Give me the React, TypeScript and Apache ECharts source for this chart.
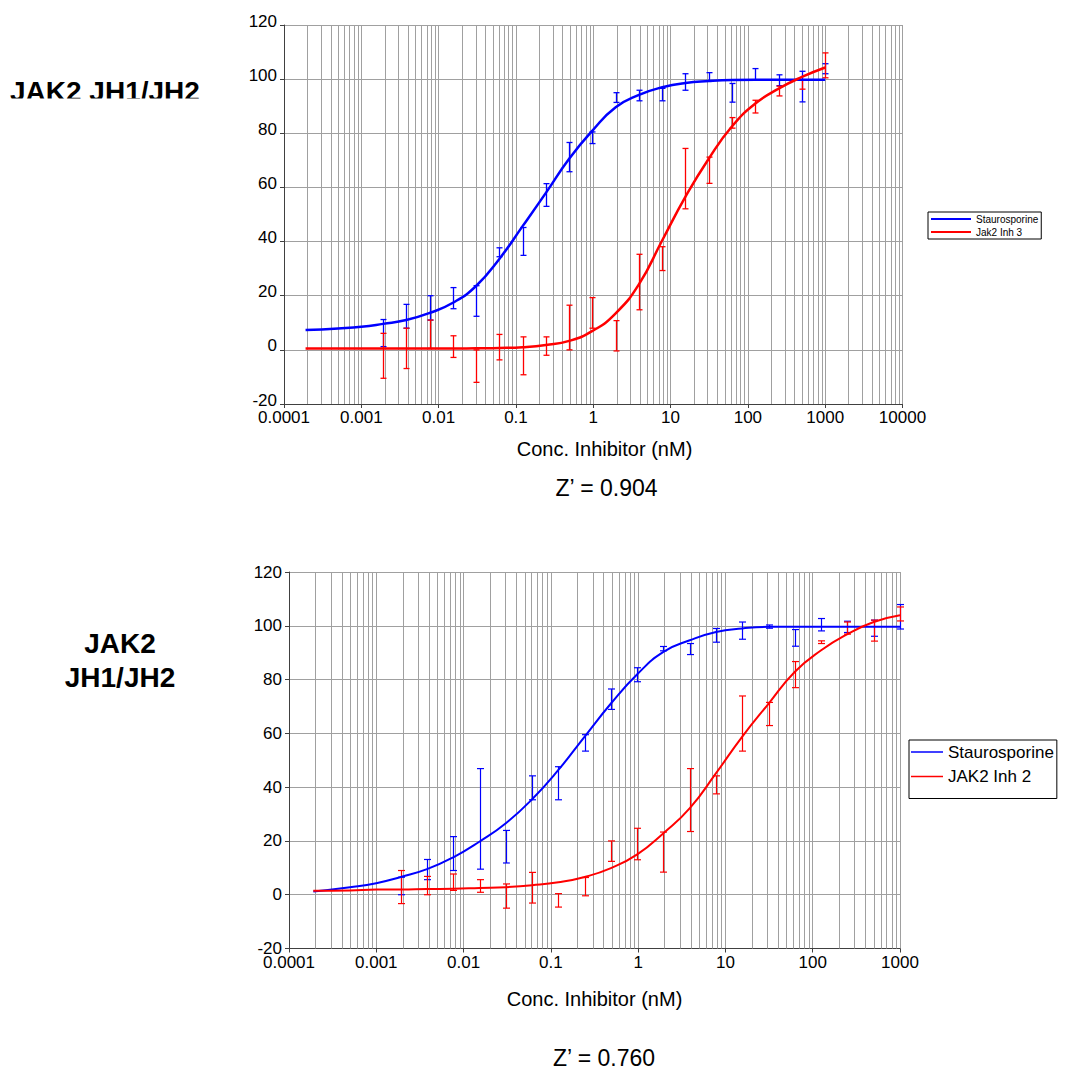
import React, { useEffect, useRef } from "react";
import * as echarts from "echarts";

const FONT = '"Liberation Sans", Arial, Helvetica, sans-serif';
const BLUE = "#0000ff";
const RED = "#ff0000";
const GRID_GRAY = "#a0a0a0";
const AXIS_GRAY = "#404040";

// x tick labels (decades)
const xTickLabels = ["0.0001", "0.001", "0.01", "0.1", "1", "10", "100", "1000", "10000"];

// concentrations of the measured points (nM, 2-fold dilution series)
const conc = [0.00191, 0.00381, 0.00763, 0.0153, 0.0305, 0.061, 0.122, 0.244, 0.488, 0.977,
  1.95, 3.91, 7.81, 15.6, 31.3, 62.5, 125, 250, 500, 1000];

// concentrations at which the fitted curves were read
const curveConc = [0.00019, 0.0005, 0.001, 0.00191, 0.00381, 0.00763, 0.0153, 0.0305, 0.061, 0.122,
  0.244, 0.488, 0.977, 1.95, 3.91, 7.81, 15.6, 31.3, 62.5, 125, 250, 500, 1000];

// ---- top chart: Staurosporine vs Jak2 Inh 3
const topStauroCurve = [7.3, 7.9, 8.5, 9.6, 11.0, 13.6, 17.4, 23.6, 33.6, 45.7,
  58.0, 70.6, 81.0, 89.6, 94.2, 97.0, 98.6, 99.3, 99.7, 99.8, 99.8, 99.8, 99.8];
const topInhCurve = [0.5, 0.5, 0.5, 0.5, 0.5, 0.5, 0.5, 0.6, 0.7, 1.0,
  1.8, 3.3, 7.0, 13.5, 24.3, 40.5, 56.6, 70.7, 82.6, 91.0, 96.5, 100.8, 104.3];
const topStauroLow = [1.2, 8.0, 11.0, 15.2, 12.4, 34.4, 34.9, 53.0, 65.8, 76.2,
  91.4, 92.0, 92.0, 95.9, 99.5, 91.5, 99.6, 97.6, 91.6, 102.0];
const topStauroHigh = [11.2, 16.8, 20.0, 23.0, 23.7, 37.7, 45.2, 61.4, 76.6, 80.5,
  95.0, 95.9, 96.6, 102.0, 102.4, 98.4, 103.9, 101.6, 102.9, 105.7];
const topInhLow = [-10.5, -6.9, 0.5, -2.8, -12.0, -3.7, -9.2, -2.0, 0.0, 8.0,
  -0.4, 14.8, 29.3, 52.1, 61.5, 81.9, 87.5, 93.8, 96.3, 100.5];
const topInhHigh = [6.1, 8.0, 11.0, 5.2, 0.0, 5.7, 4.8, 4.8, 16.5, 19.3,
  10.8, 35.3, 38.1, 74.4, 71.2, 85.8, 92.2, 97.4, 99.6, 109.7];

// ---- bottom chart: Staurosporine vs JAK2 Inh 2
const botStauroCurve = [1.2, 2.8, 4.3, 6.6, 9.5, 13.9, 19.8, 26.6, 35.5, 46.4,
  58.8, 71.1, 82.0, 90.3, 94.6, 97.7, 99.0, 99.6, 99.6, 99.6, 99.6, 99.6, 99.6];
const botInhCurve = [1.5, 1.6, 1.9, 1.9, 2.1, 2.2, 2.5, 2.8, 3.5, 4.6,
  6.6, 9.9, 15.0, 22.9, 32.2, 45.2, 58.8, 71.1, 82.9, 90.9, 96.9, 101.4, 103.9];
const botStauroLow = [0.0, 5.6, 9.0, 9.5, 11.8, 35.3, 35.3, 53.4, 68.9, 79.2,
  90.7, 89.3, 93.9, 95.0, 99.1, 92.4, 98.1, 97.5, 96.1, 98.8];
const botStauroHigh = [6.5, 13.1, 21.6, 46.9, 23.9, 44.2, 47.6, 59.5, 76.5, 84.4,
  92.3, 93.4, 99.0, 101.4, 100.3, 98.6, 102.7, 101.7, 102.1, 107.9];
const botInhLow = [-3.3, 0.0, 1.6, 0.9, -5.0, -3.1, -4.6, -0.4, 12.4, 13.0,
  8.4, 23.5, 37.5, 53.4, 62.9, 77.0, 93.4, 96.9, 94.3, 101.8];
const botInhHigh = [9.0, 6.8, 7.7, 5.6, 4.0, 8.3, 0.4, 6.4, 20.0, 24.7,
  23.3, 46.9, 44.2, 73.9, 71.5, 86.7, 94.4, 101.4, 102.1, 107.0];

const Y_MIN = -20;
const Y_MAX = 120;

function minorValues(fromExp: number, toExp: number): number[] {
  const out: number[] = [];
  for (let e = fromExp; e < toExp; e++) {
    for (let m = 2; m <= 9; m++) out.push(parseFloat((m * Math.pow(10, e)).toPrecision(6)));
  }
  return out;
}

function xAxisCfg(gridIndex: number, max: number, split: number, margin: number) {
  return {
    type: "log",
    logBase: 10,
    gridIndex,
    min: 0.0001,
    max,
    splitNumber: split,
    axisLine: { show: true, onZero: false, lineStyle: { color: AXIS_GRAY, width: 1 } },
    axisTick: { show: true, length: 4, lineStyle: { color: AXIS_GRAY } },
    axisLabel: {
      fontSize: 17,
      lineHeight: 14,
      fontFamily: FONT,
      color: "#000",
      margin,
      showMinLabel: true,
      showMaxLabel: true,
      formatter: (v: number) => xTickLabels[Math.round(Math.log10(v)) + 4] ?? "",
    },
    splitLine: { show: true, lineStyle: { color: GRID_GRAY, width: 1 } },
  };
}

function yAxisCfg(gridIndex: number, lifted: boolean) {
  return {
    type: "value",
    gridIndex,
    min: Y_MIN,
    max: Y_MAX,
    interval: 20,
    axisLine: { show: true, onZero: false, lineStyle: { color: AXIS_GRAY, width: 1 } },
    axisTick: { show: true, length: 4, lineStyle: { color: AXIS_GRAY } },
    axisLabel: {
      fontSize: 17,
      lineHeight: 8,
      verticalAlign: lifted ? "bottom" : "middle",
      fontFamily: FONT,
      color: "#000",
      margin: 7,
    },
    splitLine: { show: true, lineStyle: { color: GRID_GRAY, width: 1 } },
  };
}

function minorGridSeries(axisIdx: number, values: number[]) {
  return {
    type: "custom",
    name: "minor-grid-" + axisIdx,
    xAxisIndex: axisIdx,
    yAxisIndex: axisIdx,
    silent: true,
    z: 1,
    encode: { x: 0, y: 1 },
    data: values.map((v) => [v, Y_MIN]),
    renderItem: (_p: any, api: any) => {
      const v = api.value(0);
      const a = api.coord([v, Y_MAX]);
      const b = api.coord([v, Y_MIN]);
      const x = Math.round(a[0]) + 0.5;
      return {
        type: "line",
        shape: { x1: x, y1: a[1], x2: x, y2: b[1] },
        style: { stroke: GRID_GRAY, lineWidth: 1 },
      };
    },
  };
}

function errorSeries(name: string, axisIdx: number, color: string, lows: number[], highs: number[], hw: number, lw: number) {
  return {
    type: "custom",
    name,
    xAxisIndex: axisIdx,
    yAxisIndex: axisIdx,
    silent: true,
    z: 3,
    encode: { x: 0, y: [1, 2] },
    data: conc.map((c, i) => [c, lows[i], highs[i]]),
    renderItem: (_p: any, api: any) => {
      const x = api.value(0);
      const lo = api.value(1);
      const hi = api.value(2);
      const a = api.coord([x, hi]);
      const b = api.coord([x, lo]);
      const cx = Math.round(a[0]) + 0.5;
      const st = { stroke: color, lineWidth: lw };
      return {
        type: "group",
        children: [
          { type: "line", shape: { x1: cx, y1: a[1], x2: cx, y2: b[1] }, style: st },
          { type: "line", shape: { x1: cx - hw, y1: a[1], x2: cx + hw, y2: a[1] }, style: st },
          { type: "line", shape: { x1: cx - hw, y1: b[1], x2: cx + hw, y2: b[1] }, style: st },
        ],
      };
    },
  };
}

function curveSeries(name: string, axisIdx: number, color: string, vals: number[], width: number) {
  return {
    type: "line",
    name,
    xAxisIndex: axisIdx,
    yAxisIndex: axisIdx,
    data: curveConc.map((c, i) => [c, vals[i]]),
    showSymbol: false,
    symbol: "none",
    smooth: 0.5,
    silent: true,
    z: 4,
    lineStyle: { color, width },
    itemStyle: { color },
  };
}

function txt(text: string, x: number, y: number, size: number, bold: boolean, align = "center") {
  return {
    type: "text",
    x,
    y,
    z: 10,
    style: {
      text,
      fill: "#000",
      font: `${bold ? "bold " : ""}${size}px ${FONT}`,
      fontSize: size,
      fontWeight: bold ? "bold" : "normal",
      fontFamily: FONT,
      align,
      verticalAlign: "middle",
      textAlign: align,
      textVerticalAlign: "middle",
    },
  };
}

export default function App() {
  const ref = useRef<HTMLDivElement>(null);
  useEffect(() => {
    document.body.style.margin = "0";
    if (!ref.current) return;
    const chart = echarts.init(ref.current, null, { renderer: "svg" });
    const option: any = {
      animation: false,
      textStyle: { fontFamily: FONT },
      grid: [
        { left: 284, top: 25, width: 618.5, height: 379, containLabel: false },
        { left: 289, top: 572, width: 611, height: 376.5, containLabel: false },
      ],
      xAxis: [xAxisCfg(0, 10000, 8, 6), xAxisCfg(1, 1000, 7, 7)],
      yAxis: [yAxisCfg(0, true), yAxisCfg(1, false)],
      legend: [
        {
          data: ["Staurosporine", "Jak2 Inh 3"],
          orient: "vertical",
          left: 928,
          top: 212,
          padding: [1, 3, 1, 3],
          itemGap: 1,
          itemWidth: 40,
          itemHeight: 2,
          icon: "rect",
          borderColor: "#000",
          borderWidth: 1,
          selectedMode: false,
          textStyle: { fontSize: 10, lineHeight: 12, color: "#000", fontFamily: FONT },
        },
        {
          data: ["Staurosporine", "JAK2 Inh 2"],
          orient: "vertical",
          left: 909,
          top: 740,
          padding: [1, 3, 11, 2],
          itemGap: 2.5,
          itemWidth: 32,
          itemHeight: 1.5,
          icon: "rect",
          borderColor: "#000",
          borderWidth: 1,
          selectedMode: false,
          textStyle: { fontSize: 17, lineHeight: 22, color: "#000", fontFamily: FONT },
        },
      ],
      series: [
        minorGridSeries(0, minorValues(-4, 4)),
        minorGridSeries(1, minorValues(-4, 3)),
        errorSeries("err-top-s", 0, BLUE, topStauroLow, topStauroHigh, 3, 1.3),
        errorSeries("err-top-i", 0, RED, topInhLow, topInhHigh, 3, 1.3),
        errorSeries("err-bot-s", 1, BLUE, botStauroLow, botStauroHigh, 3.5, 1.2),
        errorSeries("err-bot-i", 1, RED, botInhLow, botInhHigh, 3.5, 1.2),
        curveSeries("Staurosporine", 0, BLUE, topStauroCurve, 2.5),
        curveSeries("Jak2 Inh 3", 0, RED, topInhCurve, 2.5),
        curveSeries("Staurosporine", 1, BLUE, botStauroCurve, 2),
        curveSeries("JAK2 Inh 2", 1, RED, botInhCurve, 2),
      ],
      graphic: [
        txt("JAK2 JH1/JH2", 10, 91.5, 28, true, "left"),
        { type: "rect", z: 11, shape: { x: 0, y: 98.5, width: 232, height: 14 }, style: { fill: "#fff" } },
        txt("JAK2", 120, 643, 28, true),
        txt("JH1/JH2", 120, 677, 28, true),
        txt("Conc. Inhibitor (nM)", 604.5, 448.5, 20, false),
        txt("Z\u2019 = 0.904", 606.5, 488, 23, false),
        txt("Conc. Inhibitor (nM)", 594.5, 998.5, 20, false),
        txt("Z\u2019 = 0.760", 604, 1058, 23, false),
      ],
    };
    chart.setOption(option);
    return () => chart.dispose();
  }, []);
  return <div ref={ref} style={{ width: 1068, height: 1076 }} />;
}
